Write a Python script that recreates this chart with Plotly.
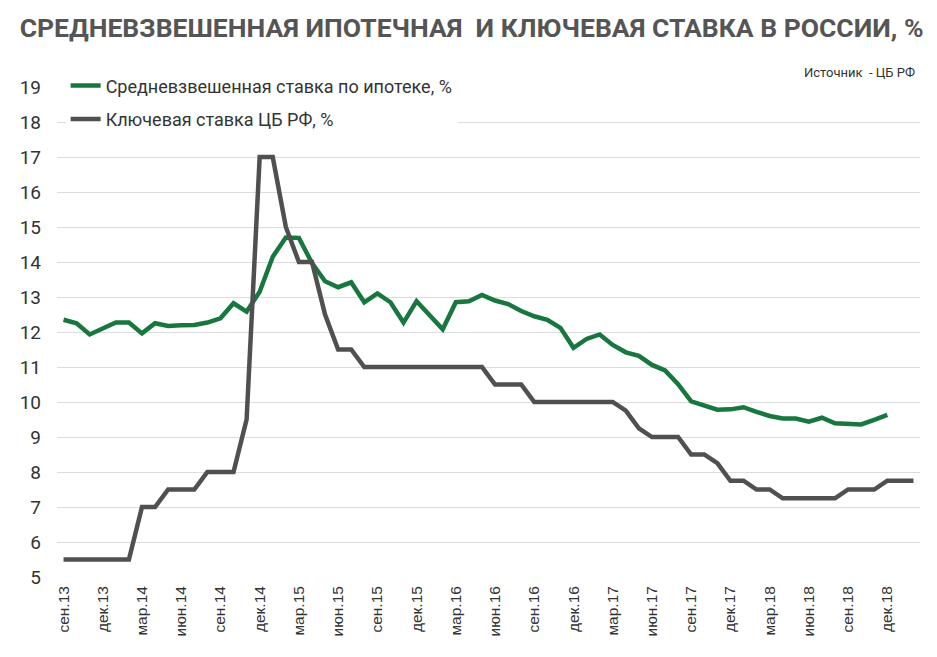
import plotly.graph_objs as go

# months from sep 2013 to feb 2019
month_names = ["янв", "фев", "мар", "апр", "май", "июн",
               "июл", "авг", "сен", "окт", "ноя", "дек"]
months = []
for i in range(66):
    m = (8 + i) % 12
    y = 13 + (8 + i) // 12
    months.append(f"{month_names[m]}.{y}")

mortgage_rate = [
    12.35, 12.25, 11.93, 12.10, 12.27, 12.27, 11.96, 12.25, 12.17, 12.19,
    12.20, 12.27, 12.39, 12.82, 12.58, 13.15, 14.15, 14.70, 14.69, 13.97,
    13.45, 13.28, 13.42, 12.85, 13.10, 12.85, 12.27, 12.88, 12.50, 12.08,
    12.85, 12.88, 13.06, 12.90, 12.80, 12.60, 12.45, 12.35, 12.12, 11.55,
    11.80, 11.93, 11.63, 11.42, 11.32, 11.06, 10.90, 10.51, 10.02, 9.90,
    9.78, 9.79, 9.85, 9.72, 9.60, 9.53, 9.53, 9.44, 9.55, 9.39,
    9.36, 9.36, 9.49, 9.63, None, None,
]

key_rate = [
    5.5, 5.5, 5.5, 5.5, 5.5, 5.5, 7.0, 7.0, 7.5, 7.5,
    7.5, 8.0, 8.0, 8.0, 9.5, 17.0, 17.0, 15.0, 14.0, 14.0,
    12.5, 11.5, 11.5, 11.0, 11.0, 11.0, 11.0, 11.0, 11.0, 11.0,
    11.0, 11.0, 11.0, 10.5, 10.5, 10.5, 10.0, 10.0, 10.0, 10.0,
    10.0, 10.0, 10.0, 9.75, 9.25, 9.0, 9.0, 9.0, 8.5, 8.5,
    8.25, 7.75, 7.75, 7.5, 7.5, 7.25, 7.25, 7.25, 7.25, 7.25,
    7.5, 7.5, 7.5, 7.75, 7.75, 7.75,
]

y_ticks = list(range(5, 20))
x_ticks = months[::3]

font_main = "Roboto, sans-serif"

fig = go.Figure()
fig.add_trace(go.Scatter(
    x=months, y=mortgage_rate, mode="lines",
    name="Средневзвешенная ставка по ипотеке, %",
    legendgroup="a",
    line=dict(color="#18773f", width=4.5),
))
fig.add_trace(go.Scatter(
    x=months, y=key_rate, mode="lines",
    name="Ключевая ставка ЦБ РФ, %",
    legendgroup="b",
    line=dict(color="#505050", width=4.5),
))

fig.update_layout(
    width=937, height=657,
    margin=dict(l=57, r=17, t=87, b=80, autoexpand=False),
    paper_bgcolor="white", plot_bgcolor="white",
    font=dict(family=font_main, color="#333333"),
    title=dict(
        text="СРЕДНЕВЗВЕШЕННАЯ ИПОТЕЧНАЯ  И КЛЮЧЕВАЯ СТАВКА В РОССИИ, %",
        x=0.021, xanchor="left", y=0.958, yanchor="middle",
        font=dict(family=font_main, size=26.5, color="#555555", weight="bold"),
    ),
    legend=dict(
        x=0.010, y=1.04, xanchor="left", yanchor="top",
        bgcolor="white", font=dict(size=18, color="#333333"),
        traceorder="grouped", tracegroupgap=7,
    ),
    showlegend=True,
    xaxis=dict(
        type="category", tickmode="array", tickvals=x_ticks,
        tickangle=-90, showgrid=False, showline=False, ticks="",
        tickfont=dict(family="Liberation Sans, Arial, sans-serif", size=15.5, color="#333333"),
        ticklabelstandoff=5,
        range=[-0.5, 65.5],
    ),
    yaxis=dict(
        range=[5, 19], tickvals=y_ticks, showgrid=True,
        gridcolor="#dcdcdc", gridwidth=1, zeroline=False, showline=False,
        ticks="", tickfont=dict(size=19, color="#333333"),
        ticklabelstandoff=15,
    ),
    annotations=[dict(
        text="Источник  - ЦБ РФ", xref="paper", yref="paper",
        x=0.996, y=1.03, xanchor="right", yanchor="middle", showarrow=False,
        font=dict(family=font_main, size=13, color="#333333"),
    )],
)

# drop the default 8px body margin so the figure sits at the window corner
fig.write_html("out.html", config={"displayModeBar": False},
               post_script="document.body.style.margin='0px';")
